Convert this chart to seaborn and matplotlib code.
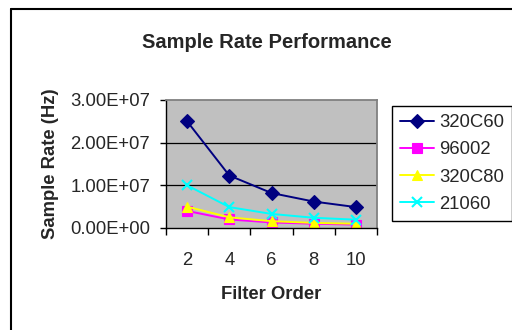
import pandas as pd
import matplotlib
matplotlib.use('Agg')
import matplotlib.pyplot as plt
import seaborn as sns
from matplotlib.ticker import FixedLocator, NullFormatter

# Dados
filter_order = ['2', '4', '6', '8', '10']
series_names = ['320C60', '96002', '320C80', '21060']
rate_320c60 = [2.5e7, 1.23e7, 8.2e6, 6.2e6, 4.9e6]
rate_96002 = [4.0e6, 2.0e6, 1.3e6, 1.0e6, 0.8e6]
rate_320c80 = [5.0e6, 2.5e6, 1.6e6, 1.2e6, 1.0e6]
rate_21060 = [1.0e7, 4.9e6, 3.3e6, 2.4e6, 1.95e6]
y_ticks = [0, 1e7, 2e7, 3e7]
y_tick_labels = ['0.00E+00', '1.00E+07', '2.00E+07', '3.00E+07']

cores = {'320C60': '#000080', '96002': '#FF00FF', '320C80': '#FFFF00', '21060': '#00FFFF'}
marcadores = {'320C60': 'D', '96002': 's', '320C80': '^', '21060': 'x'}

# Montando a base em formato longo
valores = [rate_320c60, rate_96002, rate_320c80, rate_21060]
linhas = []
for nome, serie in zip(series_names, valores):
    for pos, v in enumerate(serie):
        linhas.append({'pos': pos, 'serie': nome, 'rate': v})
base = pd.DataFrame(linhas)

sns.set_style('white')
plt.rcParams['font.family'] = ['Liberation Sans', 'DejaVu Sans']

fig = plt.figure(figsize=(5.12, 3.30), dpi=100)
ax = fig.add_axes([166 / 512, 1 - 228 / 330, 211 / 512, 128 / 330])

# Series na ordem da legenda (a ultima fica por cima)
for nome in series_names:
    sub = base[base['serie'] == nome]
    sns.lineplot(data=sub, x='pos', y='rate', color=cores[nome],
                 marker=marcadores[nome], markersize=7, linewidth=1.4,
                 markeredgewidth=1.5 if marcadores[nome] == 'x' else 0.8,
                 markeredgecolor=cores[nome], ax=ax, legend=False)

ax.set_facecolor('#C0C0C0')
ax.set_xlim(-0.5, 4.5)
ax.set_ylim(0, 3e7)

# Eixo x categórico (ticks entre as categorias)
ax.set_xticks(range(len(filter_order)))
ax.set_xticklabels(filter_order, fontsize=13.3)
ax.xaxis.set_minor_locator(FixedLocator([i - 0.5 for i in range(len(filter_order) + 1)]))
ax.xaxis.set_minor_formatter(NullFormatter())
ax.tick_params(axis='x', which='major', length=0, pad=17.5)
ax.tick_params(axis='x', which='minor', length=5, width=1, color='black', direction='out', bottom=True)

ax.set_yticks(y_ticks)
ax.set_yticklabels(y_tick_labels, fontsize=13.3)
ax.tick_params(axis='y', length=4.5, width=1, color='black', direction='out', pad=7, left=True)

ax.grid(False)
for y in y_ticks[1:3]:
    ax.axhline(y, color='black', linewidth=0.9, zorder=0.5)

for lado in ['top', 'right']:
    ax.spines[lado].set_color('#808080')
    ax.spines[lado].set_linewidth(1.3)
for lado in ['left', 'bottom']:
    ax.spines[lado].set_color('black')
    ax.spines[lado].set_linewidth(1.0)

ax.set_xlabel('Filter Order', fontsize=13.3, fontweight='bold', labelpad=12)
ax.set_ylabel('Sample Rate (Hz)', fontsize=13.3, fontweight='bold', labelpad=8)
fig.text(267 / 512, 1 - 43 / 330, 'Sample Rate Performance', fontsize=14.5,
         fontweight='bold', ha='center', va='center')

# Legenda
handles = [plt.Line2D([], [], color=cores[n], marker=marcadores[n], markersize=7,
                      linewidth=1.4, markeredgewidth=1.5 if marcadores[n] == 'x' else 0.8)
           for n in series_names]
leg = fig.legend(handles, series_names, loc='upper left',
                 bbox_to_anchor=(392 / 512, 1 - 106 / 330),
                 fontsize=13.3, frameon=True, fancybox=False, framealpha=1,
                 edgecolor='black', borderpad=0.45, handlelength=1.85,
                 handletextpad=0.25, labelspacing=0.55, borderaxespad=0)
leg.get_frame().set_linewidth(1.0)

# Borda externa da figura
fig.add_artist(plt.Line2D([11 / 512, 11 / 512], [0, 1 - 9 / 330], color='black', linewidth=1.5))
fig.add_artist(plt.Line2D([11 / 512, 1], [1 - 9 / 330, 1 - 9 / 330], color='black', linewidth=1.5))

fig.savefig('out.png', dpi=100)
